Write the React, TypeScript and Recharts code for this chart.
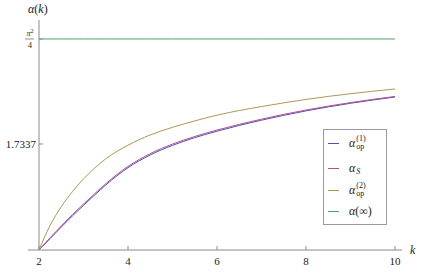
import React from "react"
import { LineChart, Line, XAxis, YAxis, ReferenceLine, Legend } from "recharts"

const kValues = [2, 2.25, 2.5, 2.75, 3, 3.25, 3.5, 4, 4.5, 5, 5.5, 6, 7, 8, 9, 10]
const alphaOp1 = [0.993, 1.073, 1.153, 1.231, 1.305, 1.377, 1.447, 1.568, 1.657, 1.724, 1.778, 1.823, 1.9, 1.965, 2.018, 2.062]
const alphaS = [0.993, 1.079, 1.161, 1.24, 1.314, 1.386, 1.456, 1.577, 1.666, 1.733, 1.786, 1.831, 1.907, 1.971, 2.023, 2.066]
const alphaOp2 = [0.993, 1.165, 1.295, 1.4, 1.49, 1.565, 1.63, 1.725, 1.797, 1.85, 1.895, 1.935, 1.995, 2.045, 2.085, 2.118]
const alphaInf = [2.4674, 2.4674, 2.4674, 2.4674, 2.4674, 2.4674, 2.4674, 2.4674, 2.4674, 2.4674, 2.4674, 2.4674, 2.4674, 2.4674, 2.4674, 2.4674]

const xTicks = [2, 4, 6, 8, 10]
const yTicks = [1.7337, 2.4674]

const colors = { op1: "#5050b0", s: "#b0508e", op2: "#ad9655", inf: "#52a06c" }
const serif = "'Times New Roman', 'Liberation Serif', serif"
const axisColor = "#8a8a8a"

const data = kValues.map((k, i) => ({
    k,
    op1: alphaOp1[i],
    s: alphaS[i],
    op2: alphaOp2[i],
    inf: alphaInf[i],
}))

const XTick = (props: any) => {
    const { x, y, payload } = props
    return (
        <g>
            <line x1={x} x2={x} y1={y} y2={y - 4} stroke={axisColor} />
            <text x={x} y={y + 15} textAnchor="middle" fontSize={11} fontFamily={serif} fill="#222">
                {payload.value}
            </text>
        </g>
    )
}

const YTick = (props: any) => {
    const { x, y, payload } = props
    const tick = <line x1={x} x2={x + 4} y1={y} y2={y} stroke={axisColor} />
    if (payload.value === 2.4674) {
        return (
            <g>
                {tick}
                <text x={x - 9} y={y - 3} textAnchor="middle" fontSize={8} fontFamily={serif} fontStyle="italic" fill="#222">
                    π<tspan dy={-3} fontSize={6} fontStyle="normal">2</tspan>
                </text>
                <line x1={x - 14} x2={x - 5} y1={y} y2={y} stroke="#444" strokeWidth={0.6} />
                <text x={x - 9} y={y + 9} textAnchor="middle" fontSize={8} fontFamily={serif} fill="#222">
                    4
                </text>
            </g>
        )
    }
    return (
        <g>
            {tick}
            <text x={x - 3} y={y + 4} textAnchor="end" fontSize={11} fontFamily={serif} fill="#222">
                {payload.value}
            </text>
        </g>
    )
}

const Script = ({ sup, sub }: { sup?: string; sub?: string }) => (
    <span style={{ display: "inline-flex", flexDirection: "column", verticalAlign: "middle", fontSize: 8, lineHeight: "8px", marginLeft: 1, fontStyle: "normal" }}>
        <span style={{ height: 8 }}>{sup ?? ""}</span>
        <span style={{ height: 8, fontStyle: sub === "S" ? "italic" : "normal" }}>{sub ?? ""}</span>
    </span>
)

const legendRows = [
    { color: colors.op1, top: 13, label: <><i>α</i><Script sup="(1)" sub="op" /></> },
    { color: colors.s, top: 38, label: <><i>α</i><Script sub="S" /></> },
    { color: colors.op2, top: 60, label: <><i>α</i><Script sup="(2)" sub="op" /></> },
    { color: colors.inf, top: 81, label: <><i>α</i>(∞)</> },
]

const LegendBox = () => (
    <div style={{ position: "relative", width: 64, height: 96, border: "1px solid #9a9a9a", boxSizing: "border-box", background: "#fff", fontFamily: serif }}>
        {legendRows.map((r, i) => (
            <div key={i} style={{ position: "absolute", left: 0, top: r.top - 9, height: 18, display: "flex", alignItems: "center" }}>
                <span style={{ display: "inline-block", marginLeft: 4, width: 11, height: 1, background: r.color }} />
                <span style={{ marginLeft: 10, fontSize: 12, color: "#222", whiteSpace: "nowrap", display: "inline-flex", alignItems: "center" }}>{r.label}</span>
            </div>
        ))}
    </div>
)

export default function App() {
    return (
        <div style={{ position: "absolute", left: 0, top: 0, width: 436, height: 273, background: "#fff" }}>
            <LineChart width={436} height={273} data={data} margin={{ top: 20, right: 41, bottom: 0, left: 0 }}>
                <XAxis
                    dataKey="k"
                    type="number"
                    domain={[2, 10]}
                    ticks={xTicks}
                    height={23}
                    axisLine={false}
                    tickLine={false}
                    tickSize={0}
                    tickMargin={0}
                    tick={<XTick />}
                />
                <YAxis
                    type="number"
                    domain={[0.993, 2.6]}
                    ticks={yTicks}
                    width={39}
                    axisLine={{ stroke: axisColor }}
                    tickLine={false}
                    tickSize={0}
                    tickMargin={0}
                    tick={<YTick />}
                    allowDataOverflow
                />
                <ReferenceLine
                    segment={[{ x: 1.753, y: 0.993 }, { x: 10.157, y: 0.993 }]}
                    stroke={axisColor}
                    ifOverflow="visible"
                />
                <Line dataKey="op1" type="monotone" stroke={colors.op1} strokeWidth={1} dot={false} isAnimationActive={false} />
                <Line dataKey="s" type="monotone" stroke={colors.s} strokeWidth={1} dot={false} isAnimationActive={false} />
                <Line dataKey="op2" type="monotone" stroke={colors.op2} strokeWidth={1} dot={false} isAnimationActive={false} />
                <Line dataKey="inf" type="monotone" stroke={colors.inf} strokeWidth={1} dot={false} isAnimationActive={false} />
                <Legend
                    layout="vertical"
                    align="center"
                    verticalAlign="middle"
                    content={<LegendBox />}
                    wrapperStyle={{ left: 323, top: 129, width: 64, height: 96 }}
                />
            </LineChart>
            <div style={{ position: "absolute", left: 28, top: 2, fontFamily: serif, fontSize: 12, color: "#222" }}>
                <i>α</i>(<i>k</i>)
            </div>
            <div style={{ position: "absolute", left: 410, top: 243, fontFamily: serif, fontSize: 12, color: "#222" }}>
                <i>k</i>
            </div>
        </div>
    )
}
